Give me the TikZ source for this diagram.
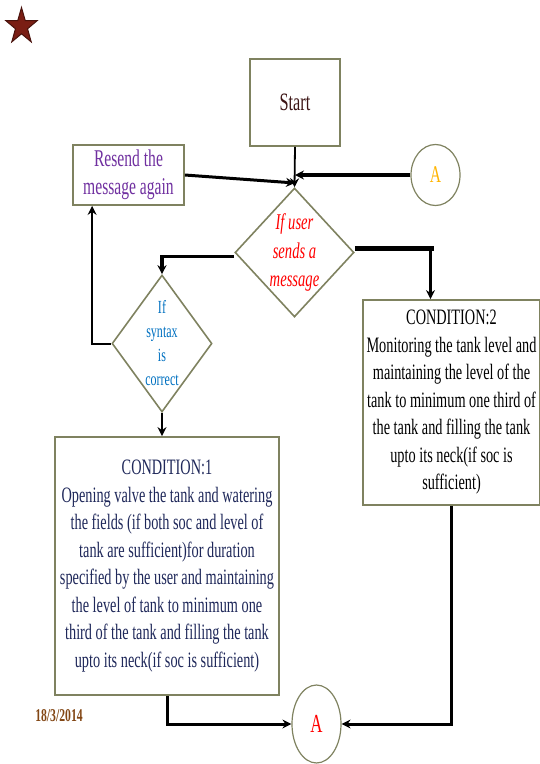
\documentclass[tikz,border=0pt]{standalone}
\usepackage{fontspec}
\setmainfont{Liberation Serif}[FakeStretch=0.65]
\usetikzlibrary{shapes.geometric,arrows.meta}
\definecolor{boxline}{RGB}{127,130,96}
\definecolor{starred}{RGB}{122,30,20}
\definecolor{startbrown}{RGB}{60,20,20}
\definecolor{resendpurple}{RGB}{112,48,160}
\definecolor{agold}{RGB}{255,180,0}
\definecolor{syntaxblue}{RGB}{0,112,192}
\definecolor{condnavy}{RGB}{31,40,90}
\definecolor{datebrown}{RGB}{130,70,20}
\begin{document}
\begin{tikzpicture}[x=1pt,y=-1pt,
		box/.style={draw=boxline,line width=1.8pt,fill=white,inner sep=0pt,align=center},
		choice/.style={diamond,draw=boxline,line width=1.6pt,inner sep=0pt},
		joint/.style={ellipse,draw=boxline,line width=1.2pt,inner sep=0pt},
		link/.style={line width=2.2pt,-{Stealth[length=9pt,width=9pt,inset=3pt]}}]
			\useasboundingbox (0,0) rectangle (540,764);
			\node[star,star points=5,star point ratio=2.6,fill=starred,draw=starred!60!black,line width=1pt,minimum size=33pt,inner sep=0pt,yscale=1.15,transform shape] (badge) at (21.5,26.5) {};
			\node[box,minimum width=90pt,minimum height=87pt,text=startbrown,font=\fontsize{25}{28}\selectfont] (start) at (295,102.5) {Start};
			\node[box,minimum width=111pt,minimum height=60pt,text=resendpurple,font=\fontsize{24}{28}\selectfont] (resend) at (128.5,175) {Resend the\\message again};
			\node[joint,minimum width=49pt,minimum height=61pt,text=agold,font=\fontsize{24}{28}\selectfont] (atop) at (435.5,175) {A};
			\node[choice,minimum width=119pt,minimum height=129pt,label={[align=center,text=red,font=\itshape\fontsize{22.5}{28.5}\selectfont]center:If user\\sends a\\message}] (ask) at (294.5,252.5) {};
			\node[choice,minimum width=100pt,minimum height=137pt,label={[align=center,text=syntaxblue,font=\fontsize{18.5}{24}\selectfont]center:If\\syntax\\is\\correct}] (syntax) at (162,343.5) {};
			\node[box,minimum width=224pt,minimum height=258pt,text=condnavy,font=\fontsize{22}{27.5}\selectfont] (cond1) at (167,566) {CONDITION:1\\Opening valve the tank and watering\\the fields (if both soc and level of\\tank are sufficient)for duration\\specified by the user and maintaining\\the level of tank to minimum one\\third of the tank and filling the tank\\upto its neck(if soc is sufficient)};
			\node[box,minimum width=177pt,minimum height=205pt,font=\fontsize{22}{27.5}\selectfont] (cond2) at (451.5,402.5) {CONDITION:2\\Monitoring the tank level and\\maintaining the level of the\\tank to minimum one third of\\the tank and filling the tank\\upto its neck(if soc is\\sufficient)};
			\node[joint,minimum width=49pt,minimum height=78pt,text=red,font=\fontsize{26}{30}\selectfont] (abot) at (316.5,724) {A};
			\node[text=datebrown,font=\bfseries\fontsize{18}{20}\selectfont] (date) at (59,716) {18/3/2014};
			% joins on the line into the first question
			\coordinate (meetA) at (start.south |- atop.west);
			\coordinate (meetR) at ([yshift=-8pt]meetA);
			\coordinate (askr) at ([yshift=4pt]ask.east);
			\coordinate (c2in) at ([xshift=-21pt]cond2.north);
			\draw[link,line width=1.8pt] (start.south) -- (ask.north);
			\draw[link,line width=3.5pt] (atop.west) -- (meetA);
			\draw[link,line width=3pt] (resend.east) -- (meetR);
			\draw[link,line width=3.5pt] ([yshift=-4pt]ask.west) -| (syntax.north);
			\draw[link,line width=2pt] (syntax.west) -| ([xshift=20pt]resend.south west);
			\draw[link] (syntax.south) -- (syntax.south |- cond1.north);
			\draw[line width=5pt] (askr) -- ([xshift=3pt]askr -| c2in);
			\draw[link] (askr -| c2in) -- (c2in);
			\draw[link,line width=3pt] (cond1.south) |- (abot.west);
			\draw[link,line width=3pt] (cond2.south) |- (abot.east);
		\end{tikzpicture}
\end{document}
